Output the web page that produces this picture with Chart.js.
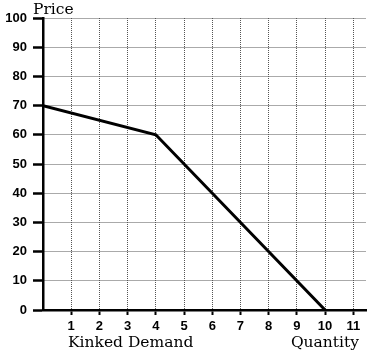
<!DOCTYPE html>
<html>
<head>
<meta charset="utf-8">
<script src="https://cdn.jsdelivr.net/npm/chart.js@4/dist/chart.umd.min.js"></script>
<style>
  html, body { margin: 0; padding: 0; background: #fff; }
  #wrap { width: 369px; height: 354px; position: relative; }
</style>
</head>
<body>
<div id="wrap"><canvas id="demandChart"></canvas></div>
<script>
// kinked demand curve: quantity vs price
const quantity = [0, 4, 10];
const price = [70, 60, 0];
const xTicks = [1, 2, 3, 4, 5, 6, 7, 8, 9, 10, 11];
const yTicks = [0, 10, 20, 30, 40, 50, 60, 70, 80, 90, 100];

// axis captions drawn on the canvas
const captionPlugin = {
    id: 'captions',
    afterDraw(chart) {
        const { ctx } = chart;
        ctx.save();
        ctx.fillStyle = '#000';
        ctx.font = '15.5px "DejaVu Serif"';
        ctx.textBaseline = 'alphabetic';
        ctx.textAlign = 'left';
        ctx.fillText('Price', 33, 14);
        ctx.fillText('Kinked Demand', 68, 347);
        ctx.textAlign = 'right';
        ctx.fillText('Quantity', 359, 347);
        ctx.restore();
    }
};

const ctx = document.getElementById('demandChart').getContext('2d');
new Chart(ctx, {
    type: 'scatter',
    data: {
        datasets: [{
            data: quantity.map((q, i) => ({ x: q, y: price[i] })),
            showLine: true,
            borderColor: '#000',
            borderWidth: 3,
            pointRadius: 0,
            fill: false
        }]
    },
    options: {
        responsive: true,
        maintainAspectRatio: false,
        animation: false,
        events: [],
        layout: { padding: { top: 18, right: 3, left: 0, bottom: 0 } },
        plugins: { legend: { display: false }, tooltip: { enabled: false } },
        scales: {
            x: {
                type: 'linear',
                min: 0,
                max: 11.45,
                afterBuildTicks: (s) => { s.ticks = xTicks.map(v => ({ value: v })); },
                afterFit: (s) => { s.height = 44; },
                grid: {
                    color: '#555', lineWidth: 1,
                    tickLength: 5, tickWidth: 2, tickColor: '#000', tickBorderDash: []
                },
                border: { color: '#000', width: 2.5, dash: [1, 1] },
                ticks: {
                    color: '#000', padding: 4, maxRotation: 0, autoSkip: false,
                    font: { family: '"Liberation Sans"', size: 13, weight: 'bold' }
                }
            },
            y: {
                min: 0,
                max: 100,
                afterBuildTicks: (s) => { s.ticks = yTicks.map(v => ({ value: v })); },
                afterFit: (s) => { s.width = 43; },
                grid: {
                    color: '#555', lineWidth: 1,
                    tickLength: 10, tickWidth: 2.5, tickColor: '#000', tickBorderDash: []
                },
                border: { color: '#000', width: 2.5, dash: [1, 1] },
                ticks: {
                    color: '#000', padding: 6,
                    font: { family: '"Liberation Sans"', size: 13, weight: 'bold' }
                }
            }
        }
    },
    plugins: [captionPlugin]
});
</script>
</body>
</html>
